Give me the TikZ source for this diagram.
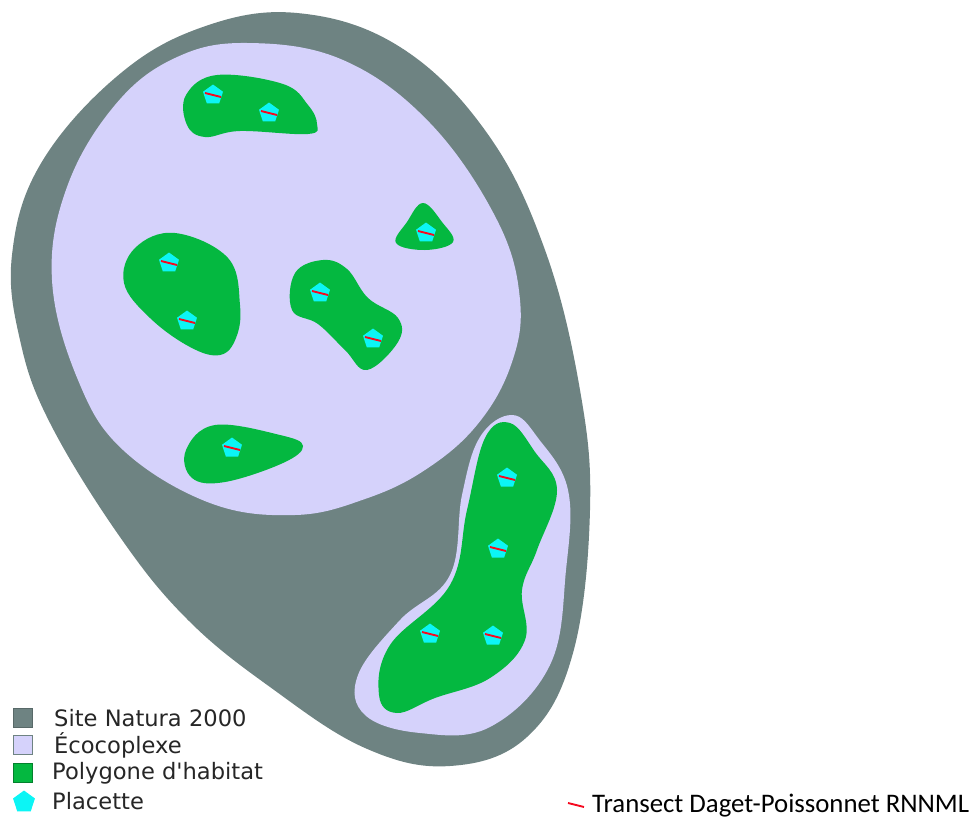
\documentclass[tikz,border=0pt]{standalone}
\usepackage{fontspec}
\newfontfamily\dejavu{DejaVu Sans}
\newfontfamily\carlito{Carlito}
\usetikzlibrary{shapes.geometric,calc}
\definecolor{sitegris}{HTML}{6E8382}
\definecolor{ecolila}{HTML}{D5D2FB}
\definecolor{habvert}{HTML}{04B840}
\definecolor{placyan}{HTML}{0CF5F5}
\definecolor{transrouge}{HTML}{F50A20}
\tikzset{
  placette/.style={regular polygon, regular polygon sides=5, fill=placyan, minimum size=21pt, inner sep=0pt},
  transect/.style={transrouge, line width=1.9pt},
  legbox/.style={minimum size=19pt, inner sep=0pt, line width=0.8pt},
  legtext/.style={anchor=west, font=\dejavu\fontsize{22.6}{26}\selectfont, text=black!85},
  contour/.style={smooth cycle, tension=0.65}
}
\begin{document}
\begin{tikzpicture}[x=1pt,y=-1pt]
    \useasboundingbox (0,0) rectangle (974,819);
    % site
    \fill[sitegris] plot[contour] coordinates {(297,13) (400,47) (487,133) (545,250) (580,390) (590,510) (573,653) (527,737) (450,766) (365,748) (270,687) (188,620) (120,537) (50,423) (20,340) (12,255) (40,165) (115,78) (200,28)};
    % ecocomplexes
    \fill[ecolila] plot[contour] coordinates {(247,43) (343,60) (430,123) (497,220) (520,300) (511,365) (477,425) (425,470) (365,499) (295,515) (210,503) (123,450) (78,380) (52,280) (67,187) (115,105) (175,58)};
    \fill[ecolila] plot[contour] coordinates {(512,415) (538,438) (568,490) (566,570) (550,665) (490,727) (420,733) (365,715) (358,675) (400,620) (450,575) (462,495) (480,437)};
    % polygones
    \fill[habvert] plot[contour] coordinates {(217,75) (283,84) (308,105) (317,124) (308,134) (240,131) (205,137) (187,125) (186,95)};
    \fill[habvert] plot[contour] coordinates {(423,203) (442,222) (453,242) (425,250) (396,243) (407,222)};
    \fill[habvert] plot[contour] coordinates {(175,233) (228,258) (240,305) (236,338) (220,355) (190,347) (150,318) (124,283) (135,248)};
    \fill[habvert] plot[contour] coordinates {(323,260) (347,269) (368,298) (398,318) (398,342) (367,370) (345,350) (318,324) (292,310) (295,273)};
    \fill[habvert] plot[contour] coordinates {(215,425) (280,435) (303,446) (283,463) (225,482) (192,478) (186,450)};
    \fill[habvert] plot[contour] coordinates {(510,423) (535,452) (557,490) (537,550) (522,590) (525,640) (490,678) (435,698) (397,713) (379,695) (390,645) (450,585) (467,510) (485,438)};
    % placettes et transects
    \foreach \px/\py [count=\i] in {213/95,269/113,426/233,169/263,187/321,320/293,373/339,232/448,507/478,498/549,430/634,493/636}{
        \node[placette] (pl\i) at (\px,\py) {};
        \draw[transect] ($(pl\i)+(-8,-2)$) -- ($(pl\i)+(8,2)$);
    }
    % legende
    \node[legbox, fill=sitegris, draw=sitegris!80!black] (legsite) at (23,718) {};
    \node[legbox, fill=ecolila, draw=sitegris] (legeco) at (23,745) {};
    \node[legbox, fill=habvert, draw=habvert!70!black] (leghab) at (23,773) {};
    \node[placette, minimum size=23pt] (legpla) at (24,802) {};
    \node[legtext, inner sep=0pt] (txtsite) at (54,718) {Site Natura 2000};
    \node[legtext, inner sep=0pt] (txteco) at (54,745) {Écocoplexe};
    \node[legtext, inner sep=0pt] (txthab) at (52,773) {Polygone d'habitat};
    \node[legtext, inner sep=0pt] (txtpla) at (52,801) {Placette};
    \node[anchor=base west, font=\carlito\fontsize{26.8}{30}\selectfont, inner sep=0pt] (txttr) at (592,812.5) {Transect Daget-Poissonnet RNNML};
    \coordinate (trA) at (568,803);
    \coordinate (trB) at (584,807);
    \draw[transect] (trA) -- (trB);
\end{tikzpicture}
\end{document}
